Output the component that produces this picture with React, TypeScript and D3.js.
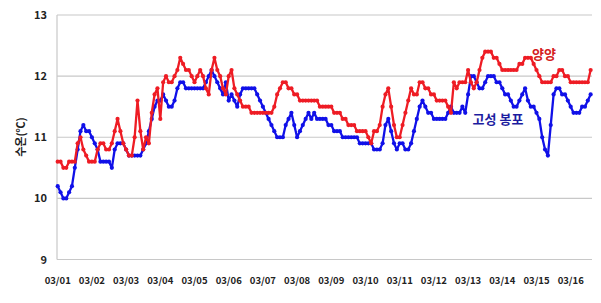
import React from "react";
import * as d3 from "d3";

// 2-hourly water temperature readings starting 03/01 00:00
const intervalHours = 2;
const yangyang: number[] = [
  10.6,10.6,10.5,10.5,10.6,10.6,10.6,10.9,11.0,10.8,
  10.7,10.6,10.6,10.6,10.8,10.9,10.9,10.8,10.8,10.9,
  11.1,11.3,11.1,10.9,10.8,10.7,10.7,11.0,11.6,11.1,
  10.8,11.0,10.9,11.4,11.7,11.8,11.3,11.9,12.0,11.9,
  11.9,12.0,12.1,12.3,12.2,12.1,12.1,
  12.0,11.9,12.0,12.1,12.0,11.8,11.7,12.1,12.3,12.1,
  12.0,11.8,11.7,12.0,12.1,11.8,11.7,11.6,11.5,11.5,
  11.5,11.4,11.4,11.4,11.4,11.4,11.4,11.4,11.4,11.5,
  11.7,11.8,11.9,11.9,11.8,11.8,11.7,11.7,11.6,11.6,
  11.6,11.6,11.6,11.6,11.6,11.5,11.5,
  11.5,11.5,11.5,11.4,11.4,11.4,11.3,11.3,11.2,11.2,
  11.2,11.1,11.1,11.1,11.1,11.0,10.9,11.1,11.1,11.2,
  11.5,11.7,11.8,11.5,11.2,11.0,11.0,11.2,11.4,11.6,
  11.8,11.7,11.7,11.9,11.9,11.8,11.8,11.7,11.7,11.6,
  11.6,11.6,11.6,11.5,11.4,
  11.9,11.8,11.9,11.9,11.9,12.1,11.9,11.8,11.9,12.1,
  12.3,12.4,12.4,12.4,12.3,12.3,12.2,12.1,12.1,12.1,
  12.1,12.1,12.1,12.2,12.2,12.3,12.3,12.3,12.2,12.1,
  12.0,11.9,11.9,11.9,11.9,12.0,12.0,12.1,12.1,12.0,
  12.0,11.9,11.9,11.9,11.9,11.9,11.9,11.9,12.1,
];
const goseong: number[] = [
  10.2,10.1,10.0,10.0,10.1,10.2,10.5,10.8,11.1,11.2,
  11.1,11.1,11.0,10.9,10.8,10.6,10.6,10.6,10.6,10.5,
  10.8,10.9,10.9,10.9,10.8,10.7,10.7,10.7,10.7,10.7,
  10.8,10.9,11.1,11.3,11.5,11.6,11.6,11.7,11.6,11.5,
  11.5,11.6,11.8,11.9,11.9,11.8,11.8,
  11.8,11.8,11.8,11.8,11.8,11.9,12.0,12.1,12.0,11.9,
  11.8,11.7,11.9,11.6,11.7,11.6,11.5,11.7,11.8,11.8,
  11.8,11.8,11.8,11.7,11.6,11.5,11.4,11.3,11.2,11.1,
  11.0,11.0,11.0,11.2,11.3,11.4,11.2,11.0,11.1,11.2,
  11.3,11.4,11.3,11.4,11.3,11.3,11.3,
  11.3,11.2,11.2,11.1,11.1,11.1,11.0,11.0,11.0,11.0,
  11.0,11.0,10.9,10.9,10.9,10.9,10.9,10.8,10.8,10.8,
  10.9,11.2,11.3,11.1,10.9,10.8,10.9,10.9,10.8,10.8,
  10.9,11.1,11.3,11.5,11.6,11.5,11.4,11.4,11.3,11.3,
  11.3,11.3,11.3,11.4,11.5,
  11.4,11.4,11.4,11.5,11.4,11.7,12.0,12.0,11.9,11.8,
  11.8,11.9,12.0,12.0,12.0,11.9,11.9,11.8,11.7,11.7,
  11.6,11.5,11.5,11.6,11.7,11.8,11.6,11.5,11.5,11.4,
  11.3,11.0,10.8,10.7,11.2,11.7,11.8,11.8,11.7,11.7,
  11.6,11.5,11.4,11.4,11.4,11.5,11.5,11.6,11.7,
];
const dayLabels = ["03/01","03/02","03/03","03/04","03/05","03/06","03/07","03/08","03/09","03/10","03/11","03/12","03/13","03/14","03/15","03/16"];
const yTicks = [9, 10, 11, 12, 13];
const seriesNames = ["양양", "고성 봉포"];

const W = 601, H = 303;
const x = d3.scaleLinear().domain([0, 15]).range([57.7, 570.7]);
const y = d3.scaleLinear().domain([9, 13]).range([259.5, 15]);
const plotLeft = 57, plotRight = 592;
const font = "'Noto Sans CJK KR', 'Noto Sans', sans-serif";

function Series({ values, color }: { values: number[]; color: string }) {
  const pts = values.map((v, i) => [x((i * intervalHours) / 24), y(v)] as [number, number]);
  const line = d3.line<[number, number]>().x(d => d[0]).y(d => d[1]);
  return (
    <g>
      <path d={line(pts) || ""} fill="none" stroke={color} strokeWidth={2.3} strokeLinejoin="round" />
      {pts.map((p, i) => (
        <circle key={i} cx={p[0]} cy={p[1]} r={2.1} fill={color} />
      ))}
    </g>
  );
}

export default function App() {
  return (
    <svg width={W} height={H} style={{ position: "absolute", left: 0, top: 0, background: "#fff" }}>
      {yTicks.map(t => (
        <g key={t}>
          <line x1={plotLeft} x2={plotRight} y1={y(t)} y2={y(t)} stroke="#c8c8c8" strokeWidth={1.2} />
          <text x={47} y={y(t) + 4} textAnchor="end" fontFamily={font} fontWeight="bold" fontSize={11} fill="#222">{t}</text>
        </g>
      ))}
      <line x1={plotLeft} x2={plotLeft} y1={y(13)} y2={y(9)} stroke="#c8c8c8" strokeWidth={1.2} />
      {dayLabels.map((d, i) => (
        <text key={d} x={x(i)} y={284} textAnchor="middle" fontFamily={font} fontWeight="bold" fontSize={9.5} fill="#222">{d}</text>
      ))}
      <text transform="translate(25,137) rotate(-90)" textAnchor="middle" fontFamily={font} fontWeight="bold" fontSize={11} fill="#222">수온(℃)</text>
      <Series values={goseong} color="#1010e8" />
      <Series values={yangyang} color="#ee1c24" />
      <text x={544} y={59} textAnchor="middle" fontFamily={font} fontWeight="bold" fontSize={13} fill="#d42020">{seriesNames[0]}</text>
      <text x={498} y={124} textAnchor="middle" fontFamily={font} fontWeight="bold" fontSize={13} fill="#1c1ca0">{seriesNames[1]}</text>
    </svg>
  );
}
